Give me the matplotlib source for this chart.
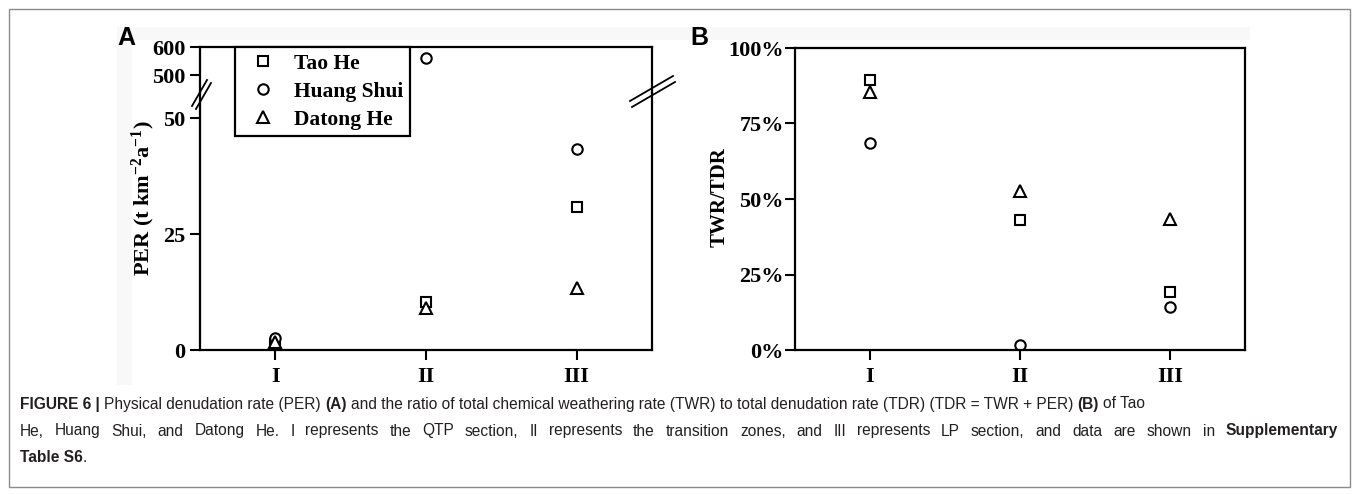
import numpy as np
import matplotlib.pyplot as plt
from matplotlib.lines import Line2D
from matplotlib.patches import Rectangle
from matplotlib.ticker import FuncFormatter
from matplotlib.font_manager import FontProperties

plt.rcParams['font.family'] = 'Liberation Serif'
plt.rcParams['font.weight'] = 'bold'
plt.rcParams['mathtext.fontset'] = 'custom'
plt.rcParams['mathtext.rm'] = 'Liberation Serif:bold'
plt.rcParams['mathtext.default'] = 'rm'

sections = ['I', 'II', 'III']
rivers = ['Tao He', 'Huang Shui', 'Datong He']
markers = ['s', 'o', '^']
msizes = [7, 7.5, 8]

# PER, t km-2 a-1
per_tao = [1.2, 10.4, 30.9]
per_huang = [2.6, 562, 43.3]
per_datong = [1.8, 9.0, 13.3]

# TWR/TDR
ratio_tao = [0.894, 0.43, 0.193]
ratio_huang = [0.684, 0.016, 0.143]
ratio_datong = [0.854, 0.528, 0.434]

W, H = 1355, 494
fig = plt.figure(figsize=(W / 100, H / 100), dpi=100)


def box(l, t, r, b):
    return [l / W, 1 - b / H, (r - l) / W, (b - t) / H]


def px(x, y):
    return x / W, 1 - y / H


def style(ax):
    for s in ax.spines.values():
        s.set_linewidth(1.6)
    ax.tick_params(direction='out', length=7, width=1.5, labelsize=16, pad=3.5)
    for lab in ax.get_xticklabels() + ax.get_yticklabels():
        lab.set_fontweight('bold')


x = np.arange(1, len(sections) + 1)

# ---- panel A (broken y axis)
ax_hi = fig.add_axes(box(200, 47, 652, 93))
ax_lo = fig.add_axes(box(200, 93, 652, 350))
for ax in (ax_hi, ax_lo):
    for vals, m, ms, name in zip([per_tao, per_huang, per_datong], markers, msizes, rivers):
        ax.plot(x, vals, ls='none', marker=m, ms=ms, mfc='white', mec='black', mew=1.5,
                label=name, clip_on=True)
    ax.set_xlim(0.5, 3.5)

ax_hi.set_ylim(436, 600)
ax_hi.set_yticks([500, 600])
ax_hi.spines['bottom'].set_visible(False)
ax_hi.tick_params(axis='x', which='both', bottom=False, labelbottom=False)
ax_lo.set_ylim(0, 55.4)
ax_lo.set_yticks([0, 25, 50])
ax_lo.spines['top'].set_visible(False)
ax_lo.set_xticks(x)
ax_lo.set_xticklabels(sections)
style(ax_hi)
style(ax_lo)
ax_lo.tick_params(axis='x', pad=5)

# break marks
for (x0, y0, x1, y1) in [(192, 106, 207, 80), (196, 109, 211, 83)]:
    fig.add_artist(Line2D([x0 / W, x1 / W], [1 - y0 / H, 1 - y1 / H], color='black', lw=1.3))
for (x0, y0, x1, y1) in [(630, 101, 673, 76), (632, 107, 675, 82)]:
    fig.add_artist(Line2D([x0 / W, x1 / W], [1 - y0 / H, 1 - y1 / H], color='black', lw=1.3))

fig.text(*px(143, 198), r'PER (t km$^{-2}$a$^{-1}$)', rotation=90, ha='center', va='center',
         fontsize=16, fontweight='bold')

handles = [Line2D([], [], ls='none', marker=m, ms=ms, mfc='white', mec='black', mew=1.5)
           for m, ms in zip(markers, msizes)]
leg = fig.legend(handles, rivers, loc='upper left', bbox_to_anchor=px(235, 47),
                 frameon=True, fancybox=False, edgecolor='black', framealpha=1,
                 prop=FontProperties(family='Liberation Serif', weight='bold', size=15.5),
                 handlelength=2.0, handletextpad=0.45, labelspacing=0.38, borderpad=0.3,
                 borderaxespad=0)
leg.get_frame().set_linewidth(1.6)

# ---- panel B
axb = fig.add_axes(box(795, 48, 1245, 350))
for vals, m, ms, name in zip([ratio_tao, ratio_huang, ratio_datong], markers, msizes, rivers):
    axb.plot(x, vals, ls='none', marker=m, ms=ms, mfc='white', mec='black', mew=1.5)
axb.set_xlim(0.5, 3.5)
axb.set_ylim(0, 1)
axb.set_yticks([0, 0.25, 0.5, 0.75, 1.0])
axb.yaxis.set_major_formatter(FuncFormatter(lambda v, p: f'{v * 100:.0f}%'))
axb.set_xticks(x)
axb.set_xticklabels(sections)
style(axb)
axb.tick_params(axis='x', pad=5)
axb.tick_params(axis='y', pad=1)
fig.text(*px(720, 197), 'TWR/TDR', rotation=90, ha='center', va='center',
         fontsize=15, fontweight='bold')

# panel letters
fig.text(*px(117, 45), 'A', family='Liberation Sans', weight='bold', fontsize=18, va='baseline')
fig.text(*px(690, 45), 'B', family='Liberation Sans', weight='bold', fontsize=18, va='baseline')

# faint scan background bits
for (l, t, r, b) in [(117, 27, 1250, 40), (117, 40, 132, 385), (202, 49, 234, 75), (798, 55, 833, 88)]:
    fig.add_artist(Rectangle(px(l, b), (r - l) / W, (b - t) / H, transform=fig.transFigure,
                             facecolor='#f8f8f8', edgecolor='none', zorder=-1))

# outer frame
fig.add_artist(Rectangle(px(9, 487), 1341 / W, 478 / H, transform=fig.transFigure,
                         facecolor='none', edgecolor='#8a8a8a', lw=1.0))

# caption
cap_size = 11.2
cap_color = '#231f20'
renderer = fig.canvas.get_renderer()


def ink_w(s, bold):
    t = fig.text(0, 0, s, family='Liberation Sans', fontsize=cap_size,
                 weight='bold' if bold else 'normal')
    w = t.get_window_extent(renderer).width
    t.remove()
    return w


def adv(s, bold):
    # advance width, spaces and side bearings included
    return ink_w('x' + s + 'x', bold) - ink_w('xx', bold)


def put(xx, y, s, bold):
    fig.text(xx / W, 1 - y / H, s, family='Liberation Sans', fontsize=cap_size,
             weight='bold' if bold else 'normal', va='center', color=cap_color)


def caption_line(y, parts, x0=20):
    xx = x0
    for s, bold in parts:
        lead = s[:len(s) - len(s.lstrip(' '))]
        body = s.strip(' ')
        if lead:
            xx += adv(lead, bold)
        put(xx, y, body, bold)
        xx += adv(s.lstrip(' '), bold)


def caption_justified(y, parts, x0=20, right=1338):
    words = []
    for s, bold in parts:
        for tok in s.split():
            words.append((tok, bold))
    widths = [adv(w, b) for w, b in words]
    gap = (right - x0 - sum(widths)) / (len(words) - 1)
    xx = x0
    for (w, b), wd in zip(words, widths):
        put(xx, y, w, b)
        xx += wd + gap


caption_line(404, [('FIGURE 6 |', True), (' Physical denudation rate (PER) ', False), ('(A)', True),
                   (' and the ratio of total chemical weathering rate (TWR) to total denudation rate (TDR) (TDR = TWR + PER) ', False),
                   ('(B)', True), (' of Tao', False)])
caption_justified(431, [('He, Huang Shui, and Datong He. I represents the QTP section, II represents the transition zones, and III represents LP section, and data are shown in', False),
                        ('Supplementary', True)])
caption_line(457, [('Table S6', True), ('.', False)])

fig.savefig('out.png', dpi=100)
